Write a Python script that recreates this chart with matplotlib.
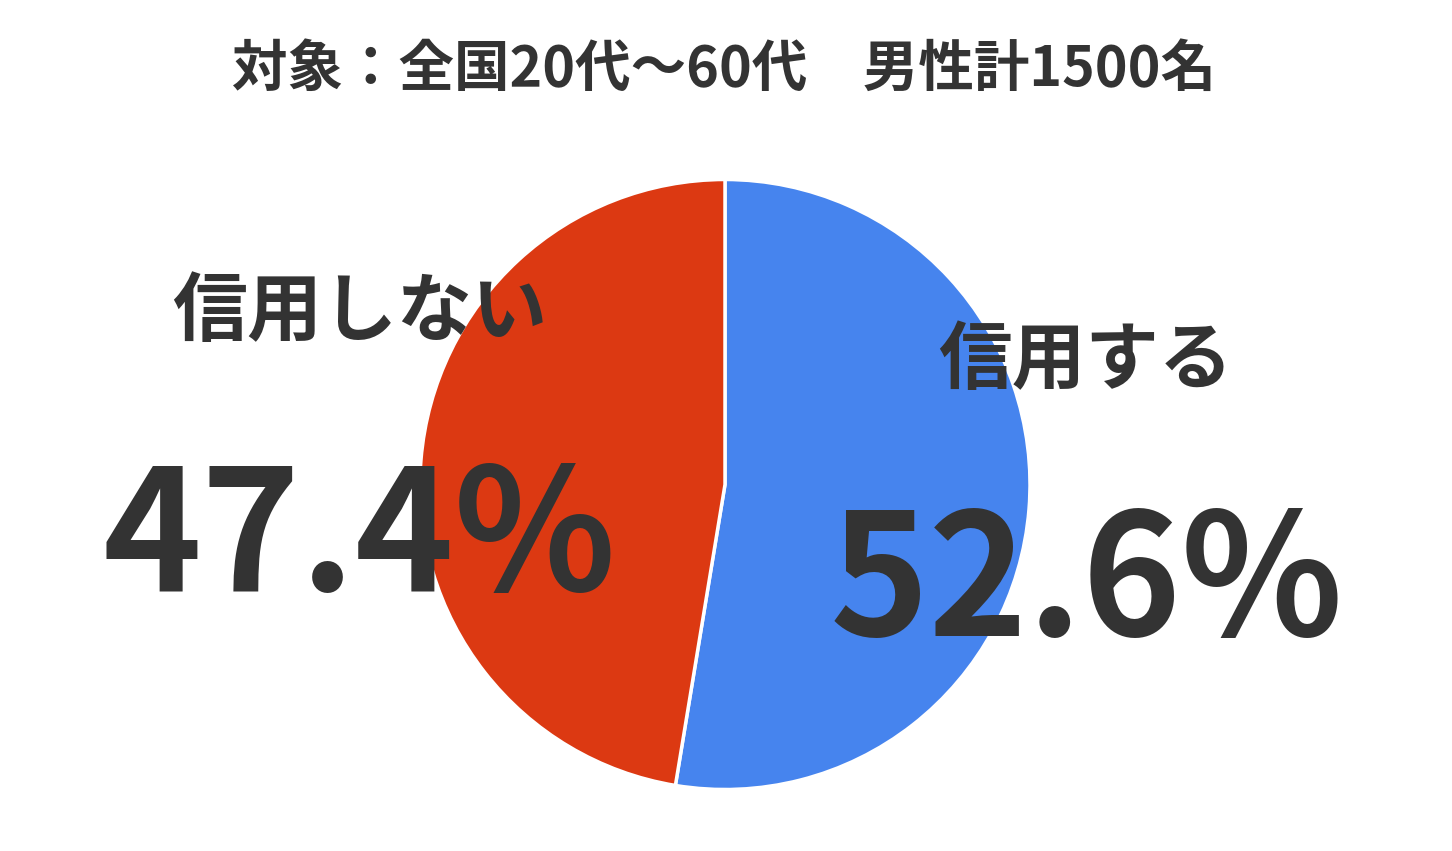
import matplotlib
matplotlib.use('Agg')
import matplotlib.pyplot as plt

plt.rcParams['font.family'] = ['Noto Sans CJK JP', 'DejaVu Sans']

title = '対象：全国20代～60代　男性計1500名'
labels = ['信用する', '信用しない']
values = [52.6, 47.4]
colors = ['#4684EE', '#DC3912']

W, H = 1452, 851
fig = plt.figure(figsize=(W / 100, H / 100), dpi=100)

# pie centre and radius in pixels
cx, cy, r = 725, 484.5, 305
ax = fig.add_axes([(cx - r) / W, (H - cy - r) / H, 2 * r / W, 2 * r / H])
ax.pie(values, colors=colors, startangle=90, counterclock=False, radius=1,
       wedgeprops=dict(edgecolor='white', linewidth=2.5))
ax.set_xlim(-1, 1)
ax.set_ylim(-1, 1)
ax.set_aspect('equal')
ax.axis('off')

def px(x, y):
    return x / W, 1 - y / H

txt = '#333333'
fig.text(*px(724, 70), title, ha='center', va='center', fontsize=40,
         fontweight='bold', color=txt)

# label name and big percentage for each slice
fig.text(*px(360, 313), labels[1], ha='center', va='center', fontsize=54,
         fontweight='bold', color=txt)
fig.text(*px(359, 591), f'{values[1]:.1f}%', ha='center', va='baseline',
         fontsize=121, fontweight='bold', color=txt)
fig.text(*px(1085, 362), labels[0], ha='center', va='center', fontsize=53,
         fontweight='bold', color=txt)
fig.text(*px(1087, 636), f'{values[0]:.1f}%', ha='center', va='baseline',
         fontsize=121, fontweight='bold', color=txt)

fig.savefig('out.png', dpi=100, facecolor='white')
